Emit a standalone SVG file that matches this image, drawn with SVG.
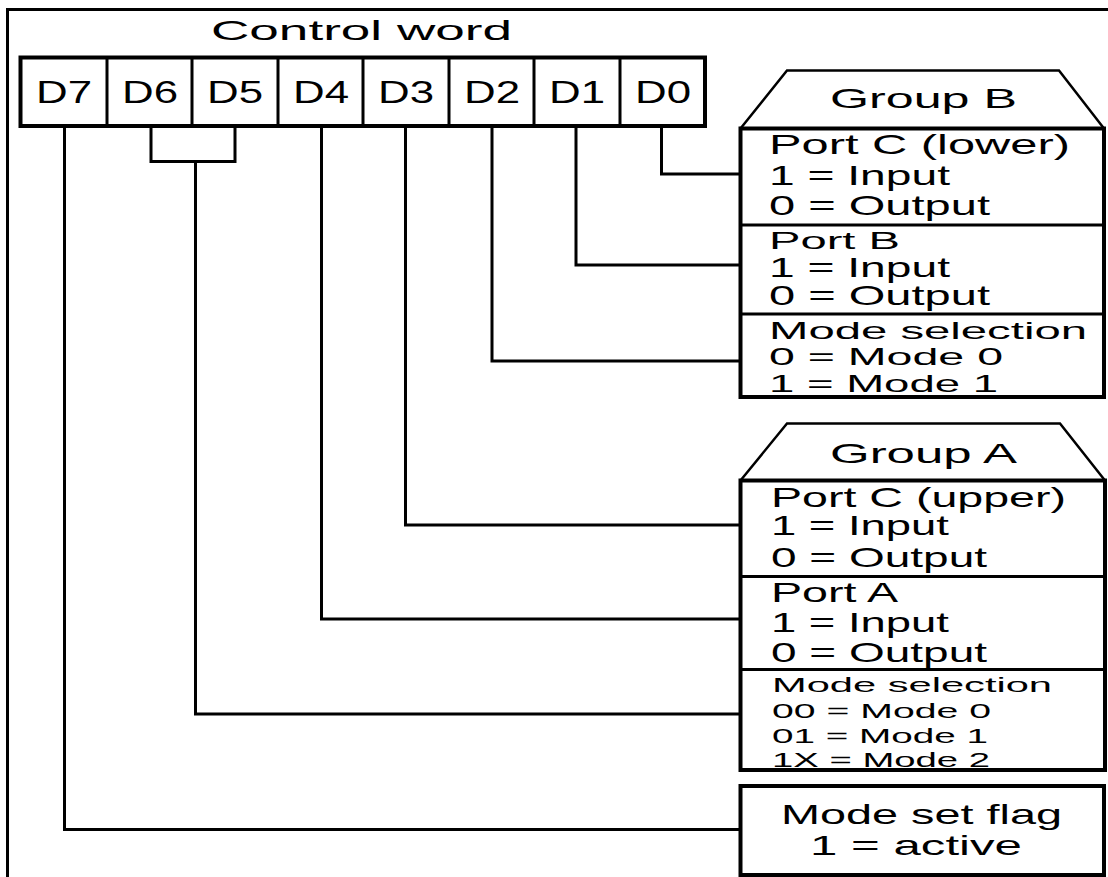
<svg xmlns="http://www.w3.org/2000/svg" width="1108" height="877" viewBox="0 0 1108 877">
<style>
.ln{fill:none;stroke:#000;stroke-width:3;stroke-linecap:square;stroke-linejoin:miter}
.bx{fill:none;stroke:#000;stroke-width:4}
.dv{fill:none;stroke:#000;stroke-width:3}
.tr{fill:none;stroke:#000;stroke-width:2.5}
.t{font-family:"Liberation Sans",Arial,sans-serif;fill:#000;font-size:28px}
.m{font-size:24px}
.s{font-size:21px}
.d{font-size:32px}
</style>
<rect width="1108" height="877" fill="#fff"/>
<path id="frame" class="ln" d="M7.5,877 V9.5 H1108"/>

<g id="control-word">
<text class="t" x="211" y="39.5" textLength="301" lengthAdjust="spacingAndGlyphs">Control word</text>
<rect class="bx" x="20.5" y="57.5" width="684.5" height="68.5"/>
<path class="dv" d="M107,57.5V126 M192,57.5V126 M278,57.5V126 M363,57.5V126 M449,57.5V126 M534,57.5V126 M620,57.5V126"/>
<g class="t d">
<text x="36" y="103" textLength="56" lengthAdjust="spacingAndGlyphs">D7</text>
<text x="122" y="103" textLength="56" lengthAdjust="spacingAndGlyphs">D6</text>
<text x="207" y="103" textLength="56" lengthAdjust="spacingAndGlyphs">D5</text>
<text x="293" y="103" textLength="56" lengthAdjust="spacingAndGlyphs">D4</text>
<text x="378" y="103" textLength="56" lengthAdjust="spacingAndGlyphs">D3</text>
<text x="464" y="103" textLength="56" lengthAdjust="spacingAndGlyphs">D2</text>
<text x="549" y="103" textLength="56" lengthAdjust="spacingAndGlyphs">D1</text>
<text x="635" y="103" textLength="56" lengthAdjust="spacingAndGlyphs">D0</text>
</g>
</g>

<g id="connectors" class="ln">
<path d="M661.5,126 V174 H740"/>
<path d="M576,126 V265 H740"/>
<path d="M492,126 V361 H740"/>
<path d="M405.5,126 V525 H740"/>
<path d="M321.5,126 V619 H740"/>
<path d="M151,126 V161.5 H235 V126"/>
<path d="M195.5,161.5 V714 H740"/>
<path d="M64.5,126 V829.5 H740"/>
</g>

<g id="group-b">
<path class="tr" d="M740.5,128.5 L787,70.5 H1059 L1104,128.5"/>
<text class="t" x="830" y="108" textLength="187" lengthAdjust="spacingAndGlyphs">Group B</text>
<rect class="bx" x="740.5" y="128.5" width="363.5" height="268.5"/>
<path class="dv" d="M740.5,225H1104 M740.5,314H1104"/>
<g class="t">
<text x="769" y="154" textLength="301" lengthAdjust="spacingAndGlyphs">Port C (lower)</text>
<text x="769" y="185" textLength="181" lengthAdjust="spacingAndGlyphs">1 = Input</text>
<text x="769" y="215" textLength="221" lengthAdjust="spacingAndGlyphs">0 = Output</text>
<text class="m" x="769" y="249" textLength="131" lengthAdjust="spacingAndGlyphs">Port B</text>
<text x="769" y="277" textLength="181" lengthAdjust="spacingAndGlyphs">1 = Input</text>
<text x="769" y="305" textLength="221" lengthAdjust="spacingAndGlyphs">0 = Output</text>
<text class="m" x="769" y="339" textLength="318" lengthAdjust="spacingAndGlyphs">Mode selection</text>
<text class="m" x="769" y="365" textLength="234" lengthAdjust="spacingAndGlyphs">0 = Mode 0</text>
<text class="m" x="769" y="391.5" textLength="229" lengthAdjust="spacingAndGlyphs">1 = Mode 1</text>
</g>
</g>

<g id="group-a">
<path class="tr" d="M740.5,480.5 L787,423.5 H1060 L1105,480.5"/>
<text class="t" x="830" y="463" textLength="187" lengthAdjust="spacingAndGlyphs">Group A</text>
<rect class="bx" x="740.5" y="480.5" width="364.5" height="289.5"/>
<path class="dv" d="M740.5,576.5H1105 M740.5,669.5H1105"/>
<g class="t">
<text x="771" y="506.5" textLength="295" lengthAdjust="spacingAndGlyphs">Port C (upper)</text>
<text x="771" y="535" textLength="178" lengthAdjust="spacingAndGlyphs">1 = Input</text>
<text x="771" y="566.5" textLength="216" lengthAdjust="spacingAndGlyphs">0 = Output</text>
<text x="771" y="601.5" textLength="127" lengthAdjust="spacingAndGlyphs">Port A</text>
<text x="771" y="631.5" textLength="178" lengthAdjust="spacingAndGlyphs">1 = Input</text>
<text x="771" y="661.5" textLength="216" lengthAdjust="spacingAndGlyphs">0 = Output</text>
<text class="s" x="772" y="691.5" textLength="280" lengthAdjust="spacingAndGlyphs">Mode selection</text>
<text class="s" x="772" y="718" textLength="219" lengthAdjust="spacingAndGlyphs">00 = Mode 0</text>
<text class="s" x="772" y="743" textLength="216" lengthAdjust="spacingAndGlyphs">01 = Mode 1</text>
<text class="s" x="772" y="766.5" textLength="218" lengthAdjust="spacingAndGlyphs">1X = Mode 2</text>
</g>
</g>

<g id="mode-set-flag">
<rect class="bx" x="740.5" y="786" width="363.5" height="89"/>
<text class="t" x="781" y="824" textLength="281" lengthAdjust="spacingAndGlyphs">Mode set flag</text>
<text class="t" x="810" y="855" textLength="212" lengthAdjust="spacingAndGlyphs">1 = active</text>
</g>
</svg>
